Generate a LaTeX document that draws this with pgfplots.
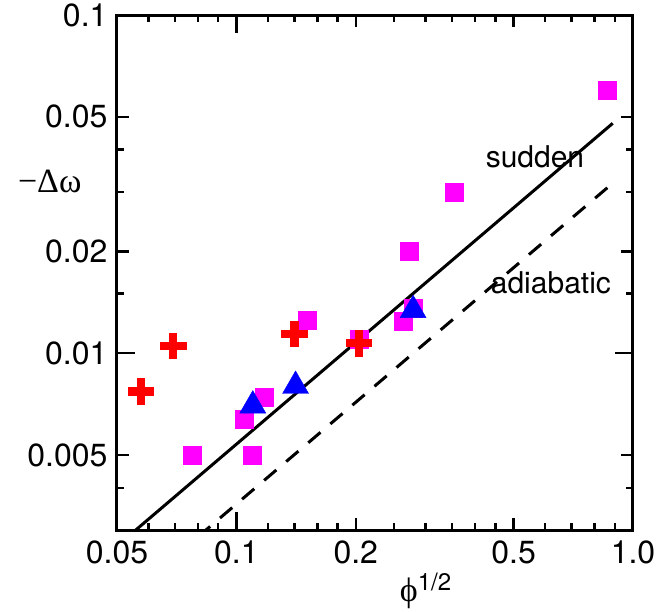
\documentclass[border=0pt]{standalone}
\usepackage{pgfplots}
\pgfplotsset{compat=1.18}
\usepackage{fontspec}
\setmainfont{TeX Gyre Heros}
\newfontfamily\greekfont{Liberation Serif}
\usetikzlibrary{calc}

\definecolor{sqmag}{RGB}{255,0,255}
\definecolor{crossred}{RGB}{255,0,0}
\definecolor{triblue}{RGB}{0,0,255}

\begin{document}
\begin{tikzpicture}
\begin{axis}[
  name=ax,
  scale only axis,
  width=516pt, height=515pt,
  xmode=log, ymode=log,
  xmin=0.05, xmax=1, ymin=0.003, ymax=0.1,
  axis line style={line width=3pt},
  every tick/.style={black, line width=2.5pt},
  xtick={0.05,0.1,0.2,0.5,1},
  xticklabels={0.05,0.1,0.2,0.5,1.0},
  ytick={0.005,0.01,0.02,0.05,0.1},
  yticklabels={0.005,0.01,0.02,0.05,0.1},
  minor xtick={0.06,0.07,0.08,0.09,0.12,0.14,0.16,0.18,0.25,0.3,0.35,0.4,0.45,0.6,0.7,0.8,0.9},
  minor ytick={0.004,0.015,0.03,0.04},
  major tick length=12pt,
  minor tick length=7pt,
  extra x ticks={0.1}, extra x tick labels={},
  extra y ticks={0.01}, extra y tick labels={},
  extra tick style={major tick length=18pt},
  tick label style={font=\fontsize{32}{32}\selectfont},
  xticklabel style={yshift=-7pt},
  yticklabel style={xshift=-6pt},
  xlabel={{\greekfont\fontsize{34}{34}\selectfont ϕ}\raisebox{11pt}{\fontsize{24}{24}\selectfont 1/2}},
  xlabel style={at={(axis description cs:0.598,-0.076)}, anchor=north},
  ylabel={{\greekfont\fontsize{34}{34}\selectfont −Δω}},
  ylabel style={rotate=-90, at={(axis description cs:-0.062,0.676)}, anchor=east},
]
% data sets
\addplot[only marks, mark=square*, mark size=9pt, color=sqmag] coordinates {
  (0.86,0.060) (0.354,0.030) (0.272,0.020) (0.151,0.0125) (0.204,0.0110)
  (0.279,0.0136) (0.264,0.0124) (0.1176,0.0074) (0.1047,0.0064)
  (0.0774,0.0050) (0.1095,0.0050)
};
\addplot[only marks, mark=+, mark size=13.3pt, color=crossred,
         mark options={line width=8.5pt}] coordinates {
  (0.0575,0.0077) (0.0693,0.0105) (0.140,0.0114) (0.204,0.0107)
};
\addplot[only marks, mark=triangle*, mark size=15pt, color=triblue] coordinates {
  (0.110,0.0070) (0.141,0.0080) (0.279,0.0134)
};
% model predictions
\addplot[black, line width=3pt, no marks] coordinates {
  (0.05,0.00269) (0.889,0.04783)
};
\addplot[black, line width=3pt, no marks, dash pattern=on 16pt off 13pt] coordinates {
  (0.08,0.002864) (0.889,0.03183)
};
\node[font=\fontsize{30}{30}\selectfont] at (axis cs:0.566,0.038) {sudden};
\node[font=\fontsize{30}{30}\selectfont] at (axis cs:0.621,0.0161) {adiabatic};
\end{axis}
\pgfresetboundingbox
\useasboundingbox ($(ax.south west)+(-117pt,-81pt)$) rectangle ($(ax.north east)+(26pt,15pt)$);
\end{tikzpicture}
\end{document}
